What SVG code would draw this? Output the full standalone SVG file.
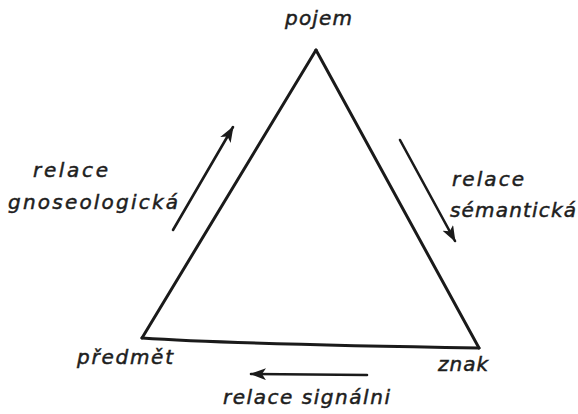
<svg xmlns="http://www.w3.org/2000/svg" width="578" height="414" viewBox="0 0 578 414">
  <style>
    .lbl { font-family: "DejaVu Sans", "Liberation Sans", sans-serif; font-style: italic; font-size: 20px; fill: #1e1e1e; stroke: #1e1e1e; stroke-width: 0.5; }
    .edge { fill: none; stroke: #1a1a1a; stroke-width: 3; stroke-linejoin: miter; stroke-linecap: round; }
    .arr { fill: none; stroke: #1a1a1a; stroke-width: 2.6; stroke-linecap: round; }
  </style>
  <defs>
    <marker id="head" markerUnits="userSpaceOnUse" markerWidth="18" markerHeight="14" refX="15" refY="6" orient="auto">
      <path d="M0,0 L16,6 L0,12 L4,6 Z" fill="#1a1a1a"/>
    </marker>
  </defs>
  <rect width="578" height="414" fill="#ffffff"/>

  <g id="connectors">
    <path class="edge" d="M142,338 L316,50"/>
    <path class="edge" d="M316,50 L479,348"/>
    <path class="edge" d="M142,338 Q230,344 479,348"/>
  </g>

  <g id="node-pojem">
    <text class="lbl" x="285" y="25" textLength="67" lengthAdjust="spacing">pojem</text>
  </g>
  <g id="node-predmet">
    <text class="lbl" x="77" y="364" textLength="96" lengthAdjust="spacing">předmět</text>
  </g>
  <g id="node-znak">
    <text class="lbl" x="438" y="371" textLength="50" lengthAdjust="spacing">znak</text>
  </g>

  <g id="relace-gnoseologicka">
    <path class="arr" d="M173,230 L233,127" marker-end="url(#head)"/>
    <text class="lbl" x="33" y="177" textLength="75" lengthAdjust="spacing">relace</text>
    <text class="lbl" x="8" y="209" textLength="170" lengthAdjust="spacing">gnoseologická</text>
  </g>
  <g id="relace-semanticka">
    <path class="arr" d="M400,140 L455,241" marker-end="url(#head)"/>
    <text class="lbl" x="452" y="186" textLength="72" lengthAdjust="spacing">relace</text>
    <text class="lbl" x="450" y="217" textLength="126" lengthAdjust="spacing">sémantická</text>
  </g>
  <g id="relace-signalni">
    <path class="arr" d="M367,375 L251,374" marker-end="url(#head)"/>
    <text class="lbl" x="223" y="404" textLength="167" lengthAdjust="spacing">relace signálni</text>
  </g>
</svg>
